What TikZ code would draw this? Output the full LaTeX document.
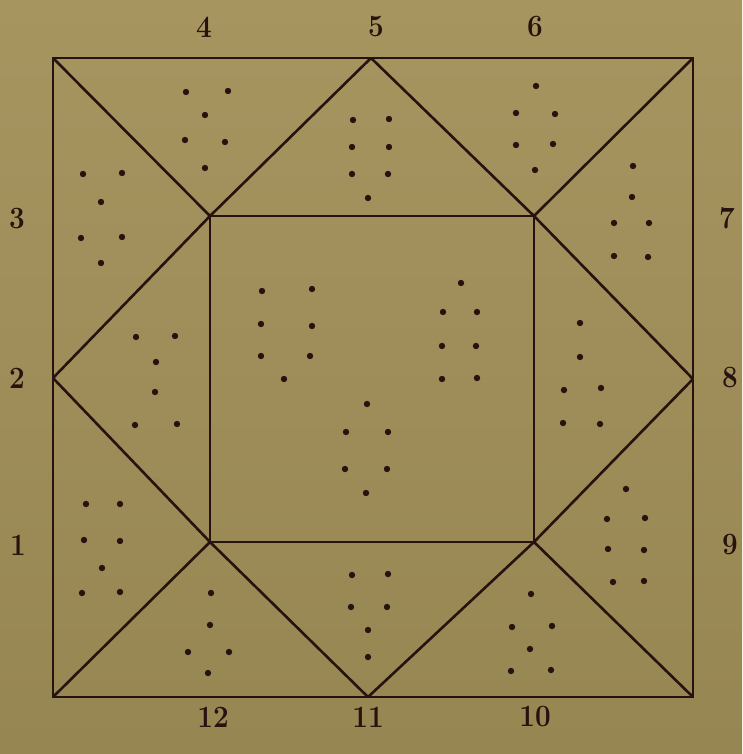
\documentclass[tikz,border=0pt]{standalone}
\usepackage{graphicx}
\newcommand{\digs}[1]{\scalebox{0.9}[1]{#1}}
\begin{document}
\begin{tikzpicture}[x=1pt,y=-1pt,
  ink/.style={draw=inkc,line width=2.6pt,line join=round,line cap=round},
  pip/.style={fill=inkc},
  lab/.style={text=inkc,font=\fontsize{31}{31}\selectfont\bfseries,inner sep=0pt}]
\definecolor{inkc}{RGB}{38,18,14}
\definecolor{bgtop}{RGB}{167,149,96}
\definecolor{bgbot}{RGB}{150,134,82}
\shade[top color=bgtop,bottom color=bgbot] (0,0) rectangle (742,754);
\useasboundingbox (0,0) rectangle (742,754);
% outer corners and midpoints
\coordinate (A) at (53,58);
\coordinate (B) at (693,58);
\coordinate (C) at (693,697);
\coordinate (D) at (53,697);
\coordinate (Mt) at (371,58);
\coordinate (Mr) at (693,379);
\coordinate (Mb) at (368,697);
\coordinate (Ml) at (53,378);
% inner square
\coordinate (P) at (210,216);
\coordinate (Q) at (534,216);
\coordinate (R) at (534,542);
\coordinate (S) at (210,542);
\draw[ink] (A) -- (B) -- (C) -- (D) -- cycle;
\draw[ink] (P) -- (Q) -- (R) -- (S) -- cycle;
\draw[ink] (A) -- (P) -- (Mt) -- (Q) -- (B);
\draw[ink] (Q) -- (Mr) -- (R) -- (C);
\draw[ink] (R) -- (Mb) -- (S) -- (D);
\draw[ink] (S) -- (Ml) -- (P);
% pips
\foreach \p in {
 (186,92),(228,91),(205,115),(185,140),(225,142),(205,168),
 (83,174),(122,173),(101,202),(81,238),(122,237),(101,263),
 (353,120),(389,119),(352,147),(389,147),(352,174),(388,174),(368,198),
 (536,86),(516,113),(555,114),(516,145),(553,144),(535,170),
 (633,166),(632,197),(614,223),(649,223),(614,256),(648,257),
 (136,337),(175,336),(156,362),(155,392),(135,425),(177,424),
 (262,291),(312,289),(261,324),(312,326),(261,356),(310,356),(284,379),
 (461,283),(443,312),(477,312),(442,346),(476,346),(442,379),(477,378),
 (367,404),(346,432),(388,432),(345,469),(387,469),(366,493),
 (580,323),(580,357),(564,390),(601,388),(563,423),(600,424),
 (86,504),(120,504),(84,540),(120,541),(102,568),(82,593),(120,592),
 (211,593),(210,625),(188,652),(229,652),(208,673),
 (352,575),(388,574),(351,607),(387,607),(368,630),(368,657),
 (626,489),(607,519),(645,518),(608,549),(644,550),(613,582),(644,581),
 (531,594),(512,627),(552,626),(530,649),(511,671),(551,670)}
  \fill[pip] \p circle (3.2);
% labels
\node[lab] (l4) at (204,27) {\digs{4}};
\node[lab] (l5) at (376,27) {\digs{5}};
\node[lab] (l6) at (535,27) {\digs{6}};
\node[lab] (l3) at (17,219) {\digs{3}};
\node[lab] (l7) at (727,218) {\digs{7}};
\node[lab] (l2) at (17,378) {\digs{2}};
\node[lab] (l8) at (730,378) {\digs{8}};
\node[lab] (l1) at (18,545) {\digs{1}};
\node[lab] (l9) at (730,545) {\digs{9}};
\node[lab] (l12) at (213,717) {\digs{12}};
\node[lab] (l11) at (368,717) {\digs{11}};
\node[lab] (l10) at (535,717) {\digs{10}};
\end{tikzpicture}
\end{document}
